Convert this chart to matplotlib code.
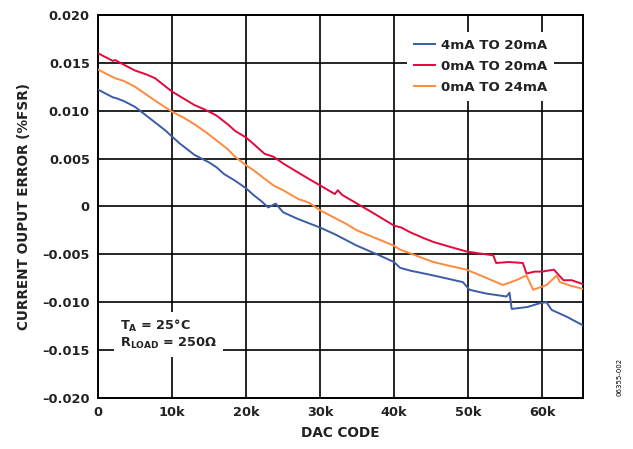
import matplotlib.pyplot as plt
from matplotlib import rcParams

rcParams['font.family'] = 'DejaVu Sans'
rcParams['font.weight'] = 'bold'
rcParams['axes.labelweight'] = 'bold'

# DAC code (thousands) and error (%FSR)
code_4_20 = [0, 1, 2, 2.5, 3.5, 5, 6, 7, 8, 9, 10, 11, 12, 13, 14, 15, 16, 17, 18.5, 20,
             21, 22, 23, 24, 25, 27, 30, 32, 35, 38, 40, 40.8, 42.2, 45.3, 49.3, 50.2,
             52.5, 55.2, 55.6, 55.9, 58, 59.7, 60.6, 61.3, 63.3, 65.5]
err_4_20 = [0.0122, 0.0118, 0.0114, 0.0113, 0.0110, 0.0104, 0.0098, 0.0092, 0.0086, 0.0080,
            0.0073, 0.0066, 0.0060, 0.0054, 0.0050, 0.0046, 0.0041, 0.0034, 0.0027, 0.0019,
            0.0012, 0.0006, -0.0001, 0.0003, -0.0006, -0.0013, -0.0022, -0.0029, -0.0041,
            -0.0051, -0.0058, -0.0064, -0.0067, -0.0072, -0.0079, -0.0087, -0.0091, -0.0094,
            -0.0090, -0.0107, -0.0105, -0.0101, -0.0100, -0.0108, -0.0115, -0.0124]

code_0_20 = [0, 1, 2, 2.3, 3.5, 5, 6.5, 7.7, 9, 10, 11.5, 13, 14.5, 16, 17.5, 18.5, 20, 21.2,
             22.5, 23.7, 25, 26.5, 28, 30, 32, 32.4, 33, 35, 37, 38.5, 40, 41, 42.2, 44,
             45.3, 47.5, 49.8, 51.5, 53.4, 53.8, 55.5, 57.4, 57.9, 59, 60, 61.6, 62.9, 64, 65.5]
err_0_20 = [0.0160, 0.0156, 0.0152, 0.0153, 0.0148, 0.0142, 0.0138, 0.0134, 0.0126, 0.0120,
            0.0113, 0.0106, 0.0101, 0.0095, 0.0086, 0.0079, 0.0072, 0.0064, 0.0055, 0.0052,
            0.0045, 0.0038, 0.0031, 0.0022, 0.0013, 0.0017, 0.0012, 0.0003, -0.0006, -0.0013,
            -0.0020, -0.0022, -0.0027, -0.0033, -0.0037, -0.0042, -0.0047, -0.0049, -0.0051,
            -0.0059, -0.0058, -0.0059, -0.0070, -0.0068, -0.0068, -0.0066, -0.0077, -0.0077,
            -0.0081]

code_0_24 = [0, 1, 2.3, 3.5, 5, 6.5, 8, 10, 11.5, 13, 14.5, 16, 17.5, 18.5, 20, 21, 22.5,
             23.7, 25, 27, 28.5, 30, 32, 33.5, 35, 37.5, 40, 40.8, 42.2, 45.3, 47.5, 49.8,
             52, 54.7, 56.5, 57.9, 58.8, 60.6, 62, 62.4, 64, 65.5]
err_0_24 = [0.0143, 0.0139, 0.0134, 0.0131, 0.0125, 0.0117, 0.0109, 0.0099, 0.0093, 0.0086,
            0.0078, 0.0069, 0.0060, 0.0052, 0.0043, 0.0038, 0.0029, 0.0022, 0.0017, 0.0008,
            0.0004, -0.0004, -0.0012, -0.0018, -0.0025, -0.0033, -0.0041, -0.0045, -0.0049,
            -0.0058, -0.0062, -0.0066, -0.0073, -0.0082, -0.0077, -0.0072, -0.0087, -0.0082,
            -0.0072, -0.0079, -0.0083, -0.0086]

x_ticks = [0, 10000, 20000, 30000, 40000, 50000, 60000]
x_labels = ['0', '10k', '20k', '30k', '40k', '50k', '60k']
y_ticks = [0.020, 0.015, 0.010, 0.005, 0, -0.005, -0.010, -0.015, -0.020]
y_labels = ['0.020', '0.015', '0.010', '0.005', '0', '\u20130.005', '\u20130.010',
            '\u20130.015', '\u20130.020']

fig = plt.figure(figsize=(6.33, 4.49), dpi=100)
ax = fig.add_axes([0.155, 0.1136, 0.766, 0.853])

ax.plot([c * 1000 for c in code_4_20], err_4_20, color='#3b5ca8', lw=1.4, label='4mA TO 20mA', zorder=3)
ax.plot([c * 1000 for c in code_0_20], err_0_20, color='#e2083c', lw=1.4, label='0mA TO 20mA', zorder=3)
ax.plot([c * 1000 for c in code_0_24], err_0_24, color='#ff8a3d', lw=1.4, label='0mA TO 24mA', zorder=3)

ax.set_xlim(0, 65535)
ax.set_ylim(-0.020, 0.020)
ax.set_xticks(x_ticks)
ax.set_xticklabels(x_labels)
ax.set_yticks(y_ticks)
ax.set_yticklabels(y_labels)
ax.tick_params(axis='both', length=0, labelsize=9.3, pad=6, labelcolor='#222222')
ax.grid(True, color='black', lw=1.2)
ax.set_axisbelow(True)
for sp in ax.spines.values():
    sp.set_linewidth(1.4)

ax.set_xlabel('DAC CODE', fontsize=9.8, labelpad=5, color='#222222')
ax.set_ylabel('CURRENT OUPUT ERROR (%FSR)', fontsize=9.8, labelpad=8, color='#222222')

leg = ax.legend(loc='upper right', bbox_to_anchor=(0.953, 0.972), fontsize=9.6, frameon=True,
                fancybox=False, edgecolor='none', facecolor='white', framealpha=1,
                handlelength=1.55, handletextpad=0.45, labelspacing=0.6, borderpad=0.5,
                labelcolor='#222222')
leg.set_zorder(5)

ax.text(0.045, 0.21, 'T$_\\mathregular{A}$ = 25°C\nR$_\\mathregular{LOAD}$ = 250Ω',
        transform=ax.transAxes, fontsize=9.3, va='top', linespacing=1.2, zorder=5,
        color='#222222', bbox=dict(facecolor='white', edgecolor='none', pad=4))

fig.text(0.979, 0.16, '06355-002', rotation=90, fontsize=5, fontweight='normal', ha='center', va='center')

plt.savefig('out.png', dpi=100)
